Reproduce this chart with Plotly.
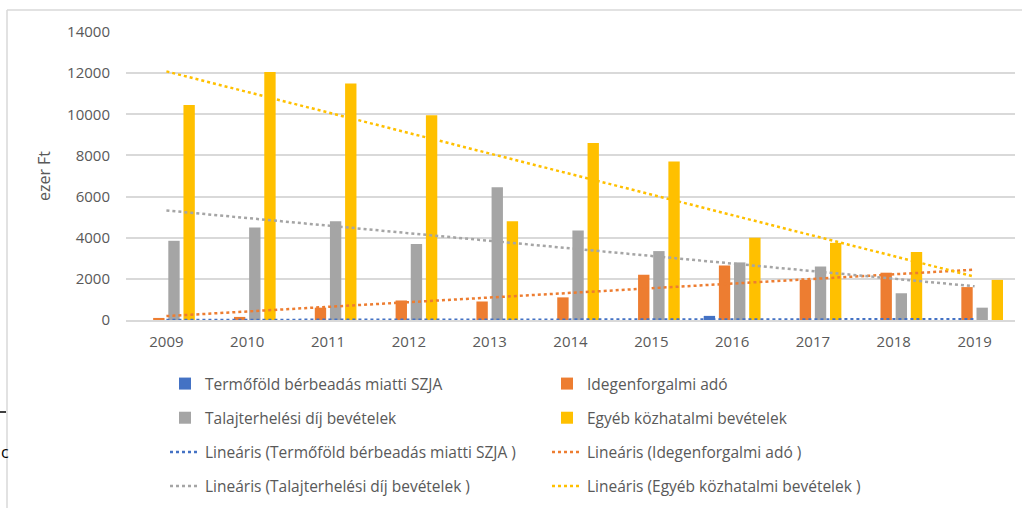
import numpy as np
import plotly.graph_objects as go

years = ["2009", "2010", "2011", "2012", "2013", "2014", "2015", "2016", "2017", "2018", "2019"]
termofold = [0, 0, 0, 0, 0, 0, 0, 200, 0, 0, 0]
idegenforgalmi = [100, 150, 600, 950, 900, 1100, 2200, 2650, 1950, 2300, 1600]
talajterhelesi = [3850, 4500, 4800, 3700, 6450, 4350, 3350, 2800, 2600, 1300, 600]
egyeb = [10450, 12050, 11500, 9950, 4800, 8600, 7700, 4000, 3750, 3300, 1950]

names = ["Termőföld bérbeadás miatti SZJA", "Idegenforgalmi adó",
         "Talajterhelési díj bevételek", "Egyéb közhatalmi bevételek"]
series = [termofold, idegenforgalmi, talajterhelesi, egyeb]
colors = ["#4472C4", "#ED7D31", "#A5A5A5", "#FFC000"]
legends = ["legend", "legend2", "legend", "legend2"]

W, H = 1022, 508
L, R, T, B = 126, 1015, 32, 320
ml, mr, mt, mb = L, W - R, T, H - B
pw, ph = R - L, B - T

def px(x):
    return (x - L) / pw

def py(y):
    return (B - y) / ph

fig = go.Figure()
for i in range(4):
    fig.add_trace(go.Bar(x=years, y=series[i], name=names[i], marker_color=colors[i],
                         marker_line_width=0, legend=legends[i], legendgroup=f"g{i}"))

idx = np.arange(len(years))
for i in range(4):
    k, b0 = np.polyfit(idx, np.array(series[i], dtype=float), 1)
    trend = k * idx + b0
    fig.add_trace(go.Scatter(x=years, y=trend, mode="lines", name=f"Lineáris ({names[i]} )",
                             line=dict(color=colors[i], width=2.5, dash="dot"),
                             legend=legends[i], legendgroup=f"t{i}", hoverinfo="skip"))

font_fam = "Open Sans, Noto Sans, sans-serif"
legend_common = dict(orientation="v", yanchor="top", xanchor="left",
                     font=dict(family=font_fam, size=15.5, color="#595959"),
                     bgcolor="rgba(0,0,0,0)", tracegroupgap=11, itemwidth=30)

fig.update_layout(
    width=W, height=H,
    margin=dict(l=ml, r=mr, t=mt, b=mb, autoexpand=False),
    paper_bgcolor="white", plot_bgcolor="white",
    barmode="group", bargap=0.25, bargroupgap=0.25,
    font=dict(family=font_fam, color="#595959"),
    xaxis=dict(type="category", showgrid=False, showline=True, linecolor="#D9D9D9", linewidth=2,
               ticks="", tickfont=dict(size=15, color="#595959"), ticklabelstandoff=7),
    yaxis=dict(range=[0, 14000], dtick=2000, tickformat="d", showgrid=True, gridcolor="#D9D9D9",
               gridwidth=2, zeroline=False, showline=False, ticks="",
               tickfont=dict(size=15, color="#595959"), ticklabelstandoff=15,
               title=dict(text="ezer Ft", font=dict(size=16, color="#595959"), standoff=12)),
    legend=dict(x=px(165), y=py(367), **legend_common),
    legend2=dict(x=px(547), y=py(367), **legend_common),
    showlegend=True,
)

# outer chart frame
fig.add_shape(type="line", xref="paper", yref="paper", x0=px(7), x1=px(7), y0=py(10), y1=py(H + 5),
              line=dict(color="#D9D9D9", width=1.5))
fig.add_shape(type="line", xref="paper", yref="paper", x0=px(7), x1=px(W + 5), y0=py(10), y1=py(10),
              line=dict(color="#D9D9D9", width=1.5))
# clipped document fragments at the left edge
fig.add_shape(type="line", xref="paper", yref="paper", x0=px(0), x1=px(6), y0=py(412), y1=py(412),
              line=dict(color="black", width=1.5))
fig.add_annotation(xref="paper", yref="paper", x=px(-1), y=py(452), text="c", showarrow=False,
                   xanchor="left", yanchor="middle", font=dict(family=font_fam, size=16, color="black"))

fig.write_html("out.html", config={"displayModeBar": False},
               post_script="document.body.style.margin='0';document.body.style.overflow='hidden';")
